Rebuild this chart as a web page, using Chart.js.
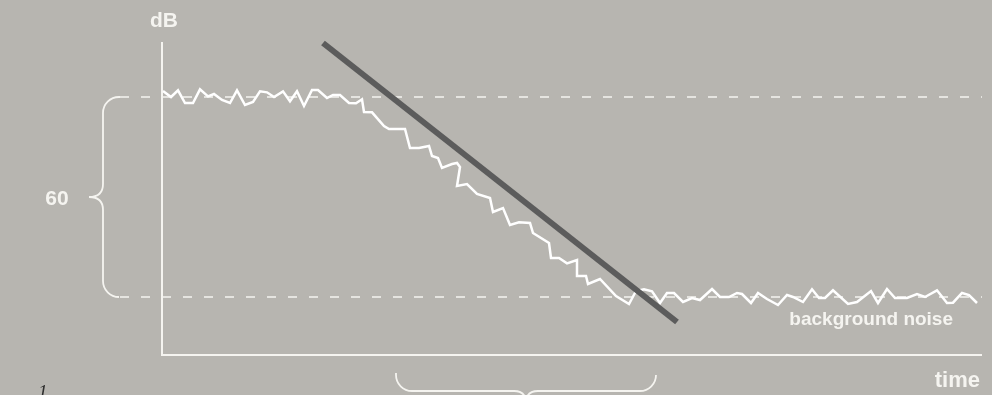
<!DOCTYPE html>
<html>
<head>
<meta charset="utf-8">
<script src="https://cdn.jsdelivr.net/npm/chart.js@4/dist/chart.umd.min.js"></script>
<style>
  html, body { margin: 0; padding: 0; background: #b7b5b0; overflow: hidden; }
  canvas { display: block; }
</style>
</head>
<body>
<canvas id="decay" width="992" height="395"></canvas>
<script>
/* =====================================================
   Reverberation decay — level (dB) over time
   ===================================================== */

// measured level: time (ms from axis) and level (dB above background noise)
const decayTime = [1, 9, 16, 23, 31, 38, 46, 52, 60, 68, 75, 83, 91, 98, 105, 112, 121, 128, 135, 142,
  150, 156, 165, 171, 178, 187, 194, 200, 202, 210, 222, 227, 243, 248, 257, 267, 270, 276, 280, 290,
  295, 298, 295, 305, 315, 328, 331, 341, 348, 357, 368, 371, 387, 389, 397, 405, 415, 415, 424, 426,
  438, 454, 467, 474, 482, 490, 498, 505, 512, 521, 530, 538, 550, 558, 567, 575, 580, 589, 596, 605,
  616, 625, 631, 641, 650, 657, 663, 671, 686, 695, 709, 716, 725, 733, 745, 755, 763, 775, 785, 791,
  800, 807, 815];
const decayLevel = [61.8, 60.0, 62.0, 58.2, 58.2, 62.3, 60.2, 60.9, 59.1, 58.2, 62.0, 57.6, 58.5, 61.7, 61.4, 60.0, 61.7, 58.7, 61.7, 57.3,
  62.1, 62.1, 59.7, 60.6, 60.6, 58.2, 58.1, 59.3, 55.5, 55.4, 51.3, 50.4, 50.4, 44.7, 44.7, 45.3, 42.3, 41.7, 38.7, 39.9,
  40.2, 39.0, 33.3, 33.9, 30.9, 29.7, 25.5, 26.7, 21.6, 22.4, 22.2, 19.2, 16.2, 11.7, 11.7, 10.1, 11.1, 6.3, 6.3, 3.9,
  5.4, 0.3, -2.1, 1.8, 2.3, 1.7, -1.8, 1.2, 1.2, -1.5, -0.3, -0.9, 2.4, 0, 0, 1.2, 0.9, -1.8, 1.2, -0.6,
  -2.4, 0.6, 0, -1.5, 2.3, -0.3, -0.3, 2.0, -2.1, -1.5, 1.8, -1.8, 2.4, -0.3, -0.3, 0.9, 0, 2.0, -1.8, -1.7,
  1.2, 0.6, -1.8];

// fitted decay slope
const slopeTime = [161, 515];
const slopeLevel = [76.2, -7.5];

// reference levels (start level and background noise) and their extent
const refLevels = [60, 0];
const refTime = [-42, 820];

// axis ranges
const timeRange = [0, 820];
const levelRange = [-17.4, 76.5];

// decay-time brace along the time axis
const braceTime = [234, 494];

// texts
const yTitle = 'dB';
const xTitle = 'time';
const rangeLabel = '60';
const noiseLabel = 'background noise';
const figLabel = '1.';

const INK = '#f5f4f0';
const FONT = '"Liberation Sans", Arial, sans-serif';

const toPoints = (xs, ys) => xs.map((x, i) => ({ x, y: ys[i] }));

const refSets = refLevels.map(lv => ({
  data: toPoints(refTime, [lv, lv]),
  borderColor: INK, borderWidth: 1.5, borderDash: [9, 12],
  pointRadius: 0, clip: false, order: 3,
}));

const decorations = {
  id: 'decorations',
  beforeDatasetsDraw(chart) {
    const { ctx, chartArea: a, scales: { x, y } } = chart;
    ctx.save();
    ctx.strokeStyle = INK;
    ctx.lineWidth = 2;

    // axes
    ctx.beginPath();
    ctx.moveTo(a.left, a.top);
    ctx.lineTo(a.left, a.bottom);
    ctx.lineTo(a.right, a.bottom);
    ctx.stroke();

    // left brace spanning the 60 dB range
    const yTop = y.getPixelForValue(refLevels[0]);
    const yBot = y.getPixelForValue(refLevels[1]);
    const yMid = (yTop + yBot) / 2;
    const xEnd = x.getPixelForValue(refTime[0]);
    const xv = xEnd - 17, xt = xEnd - 31, r = 16;
    ctx.lineWidth = 1.8;
    ctx.beginPath();
    ctx.moveTo(xEnd, yTop);
    ctx.arcTo(xv, yTop, xv, yTop + r, r);
    ctx.lineTo(xv, yMid - 13);
    ctx.quadraticCurveTo(xv, yMid, xt, yMid);
    ctx.quadraticCurveTo(xv, yMid, xv, yMid + 13);
    ctx.lineTo(xv, yBot - r);
    ctx.arcTo(xv, yBot, xEnd, yBot, r);
    ctx.stroke();

    // bottom brace for the decay time
    const x0 = x.getPixelForValue(braceTime[0]);
    const x1 = x.getPixelForValue(braceTime[1]);
    const xm = (x0 + x1) / 2;
    const yb = a.bottom + 36, yt = a.bottom + 18;
    ctx.beginPath();
    ctx.moveTo(x0, yt);
    ctx.arcTo(x0, yb, x0 + r, yb, r);
    ctx.lineTo(xm - 12, yb);
    ctx.quadraticCurveTo(xm, yb, xm, yb + 12);
    ctx.quadraticCurveTo(xm, yb, xm + 12, yb);
    ctx.lineTo(x1 - r, yb);
    ctx.arcTo(x1, yb, x1, yt, r);
    ctx.stroke();
    ctx.restore();
  },
  afterDraw(chart) {
    const { ctx, chartArea: a, scales: { y } } = chart;
    ctx.save();
    ctx.fillStyle = INK;
    ctx.textBaseline = 'alphabetic';
    ctx.font = 'bold 21px ' + FONT;
    ctx.textAlign = 'center';
    ctx.fillText(yTitle, a.left + 2, 27);
    ctx.fillText(rangeLabel, 57, y.getPixelForValue(30) + 8);
    ctx.textAlign = 'right';
    ctx.font = 'bold 22px ' + FONT;
    ctx.fillText(xTitle, a.right - 2, 387);
    ctx.font = 'bold 19px ' + FONT;
    ctx.fillText(noiseLabel, 953, 325);
    ctx.textAlign = 'left';
    ctx.fillStyle = '#2e2e2e';
    ctx.font = 'italic 19px "Liberation Serif", serif';
    ctx.fillText(figLabel, 38, 398);
    ctx.restore();
  },
};

new Chart(document.getElementById('decay'), {
  type: 'line',
  data: {
    datasets: [
      {
        data: toPoints(slopeTime, slopeLevel),
        borderColor: '#5c5c5c', borderWidth: 6, pointRadius: 0, clip: false, order: 1,
      },
      {
        data: toPoints(decayTime, decayLevel),
        borderColor: '#ffffff', borderWidth: 2.5, pointRadius: 0, tension: 0, order: 2,
      },
      ...refSets,
    ],
  },
  options: {
    responsive: false,
    animation: false,
    devicePixelRatio: 1,
    layout: { padding: { left: 162, right: 10, top: 42, bottom: 40 } },
    plugins: { legend: { display: false }, tooltip: { enabled: false } },
    scales: {
      x: { type: 'linear', min: timeRange[0], max: timeRange[1], display: false },
      y: { type: 'linear', min: levelRange[0], max: levelRange[1], display: false },
    },
  },
  plugins: [decorations],
});
</script>
</body>
</html>
